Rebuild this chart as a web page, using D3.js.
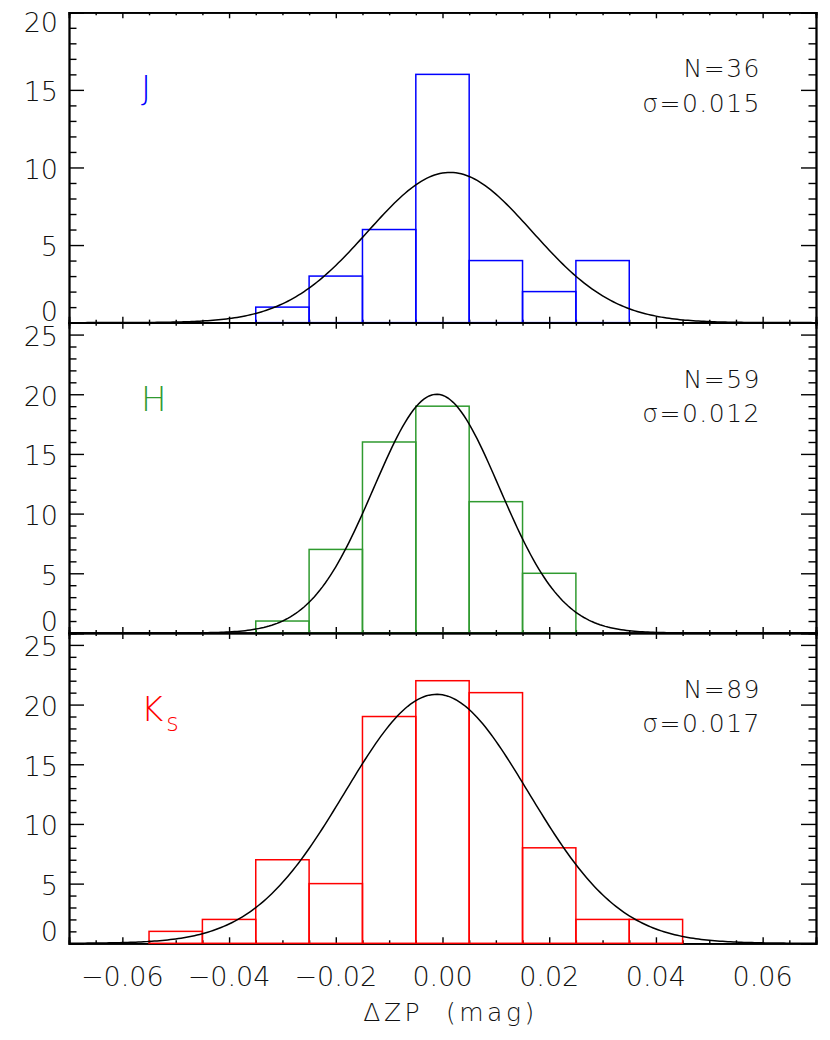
<!DOCTYPE html>
<html>
<head>
<meta charset="utf-8">
<script src="https://cdn.jsdelivr.net/npm/d3@7"></script>
<style>
  body { margin: 0; background: #fff; }
  svg { display: block; font-family: 'DejaVu Sans', sans-serif; }
  svg text { font-weight: 200; }
</style>
</head>
<body>
<div id="graf"></div>
<script>
// I. Datos
const binWidth = 0.01
const jBins   = [-0.03, -0.02, -0.01, 0.00, 0.01, 0.02, 0.03]
const jCounts = [1, 3, 6, 16, 4, 2, 4]
const hBins   = [-0.03, -0.02, -0.01, 0.00, 0.01, 0.02]
const hCounts = [1, 7, 16, 19, 11, 5]
const ksBins   = [-0.05, -0.04, -0.03, -0.02, -0.01, 0.00, 0.01, 0.02, 0.03, 0.04]
const ksCounts = [1, 2, 7, 5, 19, 22, 21, 8, 2, 2]

// ajuste gaussiano (pico, media, sigma)
const fitPeak  = [9.68, 20.0, 20.86]
const fitMean  = [0.0014, -0.0011, -0.0011]
const fitSigma = [0.0154, 0.0118, 0.0172]

const bandas      = ['J', 'H', 'K']
const subindices  = ['', '', 's']
const textoN      = ['N=36', 'N=59', 'N=89']
const textoSigma  = ['σ=0.015', 'σ=0.012', 'σ=0.017']
const colores     = ['#0000ff', '#2f9a2f', '#ff0000']
const yMax        = [20, 26, 26]
const yMayores    = [[0, 5, 10, 15, 20], [0, 5, 10, 15, 20, 25], [0, 5, 10, 15, 20, 25]]
const xMayores    = [-0.06, -0.04, -0.02, 0.00, 0.02, 0.04, 0.06]
const xDominio    = [-0.07, 0.07]
const tituloX     = 'ΔZP  (mag)'

const bins   = [jBins, hBins, ksBins]
const counts = [jCounts, hCounts, ksCounts]

// II. Configuración
const ancho_total = 830, alto_total = 1040
const margins = { top: 12.3, left: 69, right: 14, bottom: 96.7 }
const ancho = ancho_total - margins.left - margins.right
const altoPanel = (alto_total - margins.top - margins.bottom) / 3

const svg = d3.select('#graf').append('svg')
    .attr('width', ancho_total)
    .attr('height', alto_total)

const x = d3.scaleLinear().domain(xDominio).range([0, ancho])

const xMenores = d3.range(-0.065, 0.0701, 0.005)
    .map(d => +d.toFixed(3))
    .filter(d => !xMayores.some(m => Math.abs(m - d) < 1e-9))

const fmtX = d => (d < 0 ? '\u2212' : '') + Math.abs(d).toFixed(2)

// III. Paneles
bandas.forEach((banda, i) => {
  const top = margins.top + i * altoPanel
  const g = svg.append('g')
      .attr('transform', `translate(${margins.left}, ${top})`)

  const y = d3.scaleLinear().domain([0, yMax[i]]).range([altoPanel, 0])
  const yMenores = d3.range(0, yMax[i] + 1).filter(d => !yMayores[i].includes(d))

  // ejes: ticks hacia dentro
  const ejes = g.append('g').attr('class', 'ejes')
  ejes.append('g').attr('transform', `translate(0, ${altoPanel})`)
      .call(d3.axisBottom(x).tickValues(xMayores).tickSize(-6).tickFormat(''))
  ejes.append('g').attr('transform', `translate(0, ${altoPanel})`)
      .call(d3.axisBottom(x).tickValues(xMenores).tickSize(-3).tickFormat(''))
  ejes.append('g')
      .call(d3.axisTop(x).tickValues(xMayores).tickSize(-6).tickFormat(''))
  ejes.append('g')
      .call(d3.axisTop(x).tickValues(xMenores).tickSize(-3).tickFormat(''))
  ejes.append('g')
      .call(d3.axisLeft(y).tickValues(yMayores[i]).tickSize(-15).tickFormat(''))
  ejes.append('g')
      .call(d3.axisLeft(y).tickValues(yMenores).tickSize(-7.5).tickFormat(''))
  ejes.append('g').attr('transform', `translate(${ancho}, 0)`)
      .call(d3.axisRight(y).tickValues(yMayores[i]).tickSize(-15).tickFormat(''))
  ejes.append('g').attr('transform', `translate(${ancho}, 0)`)
      .call(d3.axisRight(y).tickValues(yMenores).tickSize(-7.5).tickFormat(''))

  ejes.selectAll('.domain').attr('stroke', '#000').attr('stroke-width', 1.8)
  ejes.selectAll('.tick line').attr('stroke', '#000').attr('stroke-width', 1.4)

  // etiquetas del eje y (ajustadas para no salir del panel)
  const capY = 19.7
  g.selectAll('.ylab')
    .data(yMayores[i])
    .enter().append('text')
      .attr('class', 'ylab')
      .attr('x', -11)
      .attr('y', d => {
        let base = y(d) + capY / 2 + 1.5
        base = Math.min(base, altoPanel - 2)
        base = Math.max(base, capY)
        return base
      })
      .attr('text-anchor', 'end')
      .style('font-size', '27px')
      .style('fill', '#111')
      .text(d => d)

  // histograma
  g.selectAll('.barra')
    .data(bins[i].map((b, k) => ({ centro: b, n: counts[i][k] })))
    .enter().append('rect')
      .attr('class', 'barra')
      .attr('x', d => x(d.centro - binWidth / 2))
      .attr('width', d => x(d.centro + binWidth / 2) - x(d.centro - binWidth / 2))
      .attr('y', d => y(d.n))
      .attr('height', d => y(0) - y(d.n))
      .attr('fill', 'none')
      .attr('stroke', colores[i])
      .attr('stroke-width', 1.5)

  // curva gaussiana
  const xs = d3.range(0, 281).map(k => xDominio[0] + k * (xDominio[1] - xDominio[0]) / 280)
  const linea = d3.line()
      .x(d => x(d))
      .y(d => y(fitPeak[i] * Math.exp(-((d - fitMean[i]) ** 2) / (2 * fitSigma[i] ** 2))))
  g.append('path')
      .datum(xs)
      .attr('d', linea)
      .attr('fill', 'none')
      .attr('stroke', '#000')
      .attr('stroke-width', 1.5)

  // nombre de la banda
  const etiqueta = g.append('text')
      .attr('x', 141 - margins.left)
      .attr('y', [87.7, 88.0, 88.4][i])
      .style('font-size', '34px')
      .style('fill', colores[i])
      .text(banda)
  if (subindices[i]) {
    etiqueta.append('tspan')
      .attr('dy', 9.5)
      .attr('dx', 3)
      .style('font-size', '24px')
      .text(subindices[i])
  }

  // N y sigma
  g.append('text')
      .attr('x', 761 - margins.left)
      .attr('y', 65)
      .attr('text-anchor', 'end')
      .style('font-size', '25px')
      .style('letter-spacing', '1.5px')
      .style('fill', '#111')
      .text(textoN[i])
  g.append('text')
      .attr('x', 761 - margins.left)
      .attr('y', 99.5)
      .attr('text-anchor', 'end')
      .style('font-size', '25px')
      .style('letter-spacing', '1.5px')
      .style('fill', '#111')
      .text(textoSigma[i])

  // etiquetas del eje x solo en el panel inferior
  if (i === bandas.length - 1) {
    g.selectAll('.xlab')
      .data(xMayores)
      .enter().append('text')
        .attr('class', 'xlab')
        .attr('x', d => x(d))
        .attr('y', altoPanel + 43)
        .attr('text-anchor', 'middle')
        .style('font-size', '27px')
        .style('fill', '#111')
        .text(fmtX)
    g.append('text')
        .attr('x', ancho / 2 + 8)
        .attr('y', altoPanel + 78)
        .attr('text-anchor', 'middle')
        .style('font-size', '25px')
        .style('letter-spacing', '3.5px')
        .style('white-space', 'pre')
        .style('fill', '#111')
        .text(tituloX)
  }
})
</script>
</body>
</html>
